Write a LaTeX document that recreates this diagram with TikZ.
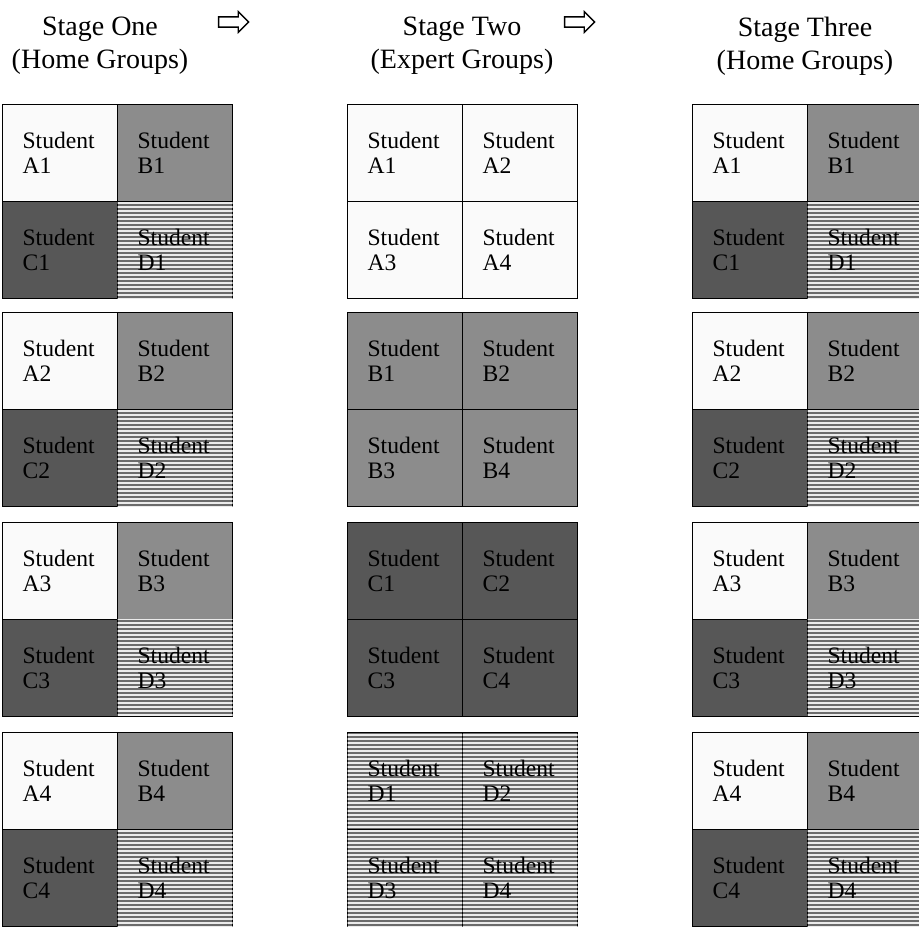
\documentclass[tikz,border=0pt]{standalone}
\usepackage{fontspec}
\setmainfont{Liberation Serif}
\usepackage{tikz}
\usetikzlibrary{positioning,shapes.arrows,patterns.meta}

\definecolor{grpA}{gray}{0.98}
\definecolor{grpB}{gray}{0.55}
\definecolor{grpC}{gray}{0.34}
\definecolor{grpD}{gray}{0.42}

\tikzset{
  cell/.style={draw=black, line width=0.6pt, anchor=north west,
    text width=37.5pt, inner xsep=10pt, inner ysep=2pt,
    minimum width=57.5pt, minimum height=48.5pt, align=left,
    font=\fontsize{11.8}{12.5}\selectfont},
  afill/.style={fill=grpA},
  bfill/.style={fill=grpB},
  cfill/.style={fill=grpC},
  dfill/.style={fill=grpD,
    postaction={pattern={Lines[angle=0,distance=2pt,line width=0.65pt]},
      pattern color=white!92!black}},
  stagetitle/.style={align=center, inner sep=0pt,
    font=\fontsize{14}{16.5}\selectfont},
  hollowarrow/.style={single arrow, draw=black, fill=white, line width=0.7pt,
    minimum height=15pt, minimum width=9.5pt, inner sep=2.2pt,
    single arrow head extend=2.6pt}
}

\begin{document}
\begin{tikzpicture}[x=0.5pt, y=-0.5pt]

    \useasboundingbox (0,0) rectangle (919,927);

    % titles
    \node[stagetitle] (titleOne) at (100,46) {Stage One\\(Home Groups)};
    \node[stagetitle] (titleTwo) at (462,46) {Stage Two\\(Expert Groups)};
    \node[stagetitle] (titleThree) at (805,46) {Stage Three\\(Home Groups)};

    \node[hollowarrow] (arrowOne) at (231,22) {};
    \node[hollowarrow] (arrowTwo) at (577,22) {};

    % stage one and three: home groups
    \foreach \x/\s in {2/one, 692/three} {
      \foreach \r/\y in {1/104, 2/312, 3/522, 4/732} {
        \node[cell, afill] (\s A\r) at (\x,\y) {Student\\A\r};
        \node[cell, bfill] (\s B\r) at (\x+115,\y) {Student\\B\r};
        \node[cell, cfill] (\s C\r) at (\x,\y+97) {Student\\C\r};
        \node[cell, dfill] (\s D\r) at (\x+115,\y+97) {Student\\D\r};
      }
    }

    % stage two: expert groups
    \foreach \g/\y/\f in {A/104/afill, B/312/bfill, C/522/cfill, D/732/dfill} {
      \node[cell, \f] (two\g1) at (347,\y) {Student\\\g1};
      \node[cell, \f] (two\g2) at (462,\y) {Student\\\g2};
      \node[cell, \f] (two\g3) at (347,\y+97) {Student\\\g3};
      \node[cell, \f] (two\g4) at (462,\y+97) {Student\\\g4};
    }

\end{tikzpicture}
\end{document}
